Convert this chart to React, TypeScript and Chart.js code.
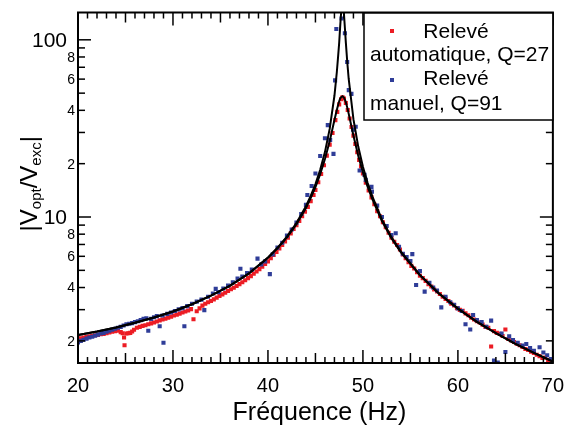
import React, { useEffect, useRef } from 'react';
import { Chart, registerables } from 'chart.js';

Chart.register(...registerables);

const FONT = '"Liberation Sans", Arial, Helvetica, sans-serif';
const RED = '#ec1c24';
const BLUE = '#2f3d98';

// Relevé automatique (red)
const autoX = [
  20.0, 20.3, 20.6, 20.9, 21.2, 21.5, 21.8, 22.1, 22.4, 22.7, 23.0, 23.3, 23.6, 23.9, 24.2, 24.5, 24.7, 24.85, 24.9, 25.1,
  25.3, 25.5, 25.7, 25.9, 26.2, 26.5, 26.8, 27.1, 27.4, 27.7, 28.0, 28.3, 28.6, 28.9, 29.2, 29.5, 29.8, 30.1, 30.4, 30.7,
  31.0, 31.3, 31.6, 31.9, 32.16, 32.5, 32.8, 33.1, 33.4, 33.7, 34.0, 34.3, 34.6, 34.9, 35.2, 35.5, 35.8, 36.1, 36.4, 36.7,
  37.0, 37.3, 37.6, 37.9, 38.2, 38.5, 38.8, 39.1, 39.4, 39.7, 40.0, 40.3, 40.6, 40.9, 41.2, 41.5, 41.8, 42.1, 42.4, 42.7,
  43.0, 43.3, 43.6, 43.9, 44.2, 44.5, 44.8, 45.0, 45.3, 45.6, 45.9, 46.2, 46.5, 46.8, 47.1, 47.3, 47.5, 47.7, 47.85, 48.0,
  48.2, 48.4, 48.6, 48.8, 49.0, 49.2, 49.4, 49.6, 49.8, 50.0, 50.3, 50.6, 50.9, 51.2, 51.5, 51.8, 52.1, 52.4, 52.7, 53.0,
  53.3, 53.6, 53.9, 54.2, 54.5, 54.8, 55.1, 55.4, 55.7, 56.0, 56.3, 56.6, 56.9, 57.2, 57.5, 57.8, 58.1, 58.4, 58.7, 59.0,
  59.3, 59.6, 59.9, 60.2, 60.5, 60.8, 61.1, 61.4, 61.7, 62.0, 62.3, 62.6, 62.9, 63.2, 63.5, 63.8, 64.1, 64.4, 64.7, 65.0,
  65.3, 65.6, 65.9, 66.2, 66.5, 66.8, 67.1, 67.4, 67.7, 68.0, 68.3, 68.6, 68.9, 69.2, 69.5, 69.8,
];
const autoY = [
  2.06, 2.07, 2.09, 2.10, 2.12, 2.13, 2.15, 2.16, 2.18, 2.19, 2.21, 2.23, 2.25, 2.27, 2.28, 2.24, 2.21, 2.09, 1.89, 2.20,
  2.21, 2.22, 2.26, 2.31, 2.37, 2.40, 2.43, 2.45, 2.48, 2.51, 2.54, 2.57, 2.61, 2.64, 2.67, 2.70, 2.74, 2.78, 2.81, 2.85,
  2.89, 2.93, 2.97, 3.02, 2.65, 2.94, 3.05, 3.16, 3.24, 3.30, 3.36, 3.43, 3.51, 3.58, 3.66, 3.74, 3.82, 3.91, 3.99, 4.08,
  4.18, 4.28, 4.40, 4.52, 4.64, 4.78, 4.93, 5.08, 5.25, 5.43, 5.62, 5.85, 6.10, 6.36, 6.64, 6.95, 7.28, 7.65, 8.08, 8.55,
  9.00, 9.50, 10.1, 10.7, 11.4, 12.3, 13.3, 14.2, 15.7, 17.5, 19.6, 22.2, 25.6, 29.8, 35.2, 39.2, 43.2, 46.2, 47.3, 46.6,
  44.0, 40.2, 36.0, 32.2, 28.8, 25.8, 23.2, 21.0, 19.3, 17.6, 15.6, 14.1, 12.9, 11.8, 10.8, 10.1, 9.35, 8.75, 8.15, 7.65,
  7.25, 6.95, 6.55, 6.15, 5.85, 5.55, 5.30, 5.12, 4.88, 4.66, 4.52, 4.36, 4.18, 4.05, 3.90, 3.80, 3.68, 3.55, 3.45, 3.36,
  3.24, 3.17, 3.06, 2.99, 2.96, 2.86, 2.79, 2.70, 2.64, 2.58, 2.54, 2.47, 2.40, 2.37, 1.86, 2.27, 2.22, 2.19, 2.13, 2.32,
  2.05, 2.01, 1.97, 1.93, 1.89, 1.85, 1.80, 1.78, 1.74, 1.71, 1.67, 1.64, 1.60, 1.61, 1.56, 1.54,
];

// Relevé manuel (blue)
const manX = [
  20.0, 20.3, 20.6, 20.9, 21.2, 21.5, 21.8, 22.1, 22.4, 22.7, 23.0, 23.3, 23.6, 23.9, 24.2, 24.5, 24.8, 25.1, 25.4, 25.7,
  26.0, 26.3, 26.6, 26.9, 27.2, 27.4, 27.7, 28.0, 28.3, 28.6, 28.9, 29.0, 29.4, 29.8, 30.2, 30.6, 31.0, 31.2, 31.5, 32.0,
  32.5, 33.0, 33.3, 33.7, 34.2, 34.5, 34.8, 35.3, 35.8, 36.3, 36.8, 37.1, 37.3, 37.8, 38.3, 38.9, 39.3, 39.7, 40.2, 40.5,
  41.0, 41.5, 42.0, 42.5, 43.0, 43.5, 44.0, 44.15, 44.6, 45.0, 45.5, 46.0, 46.3, 46.55, 46.9, 47.07, 47.2, 47.75, 48.1, 48.34,
  48.51, 48.79, 48.96, 49.24, 49.65, 50.17, 50.3, 50.9, 50.95, 51.5, 52.0, 52.5, 53.0, 53.45, 53.8, 54.2, 54.6, 55.0, 55.2, 55.6,
  56.0, 56.5, 57.0, 57.4, 57.8, 58.25, 58.7, 59.2, 59.6, 60.0, 60.4, 60.8, 61.3, 61.6, 62.0, 62.5, 63.0, 63.5, 63.8, 64.2,
  64.6, 65.0, 65.4, 65.8, 66.3, 66.8, 67.2, 67.6, 68.0, 68.6, 69.0, 69.4, 69.8,
];
const manY = [
  1.96, 2.00, 2.03, 2.06, 2.09, 2.11, 2.14, 2.17, 2.20, 2.22, 2.25, 2.28, 2.31, 2.34, 2.37, 2.40, 2.44, 2.48, 2.50, 2.52,
  2.55, 2.58, 2.62, 2.66, 2.68, 2.28, 2.66, 2.72, 2.76, 2.42, 2.78, 1.95, 2.84, 2.89, 2.95, 3.01, 3.06, 2.42, 3.14, 3.24,
  3.33, 3.42, 2.98, 3.55, 3.70, 3.93, 3.76, 3.95, 4.10, 4.28, 4.50, 5.10, 4.62, 4.82, 5.05, 5.82, 5.40, 5.62, 4.76, 6.15,
  6.72, 7.15, 7.85, 8.50, 9.30, 10.4, 11.7, 13.3, 14.97, 17.6, 22.1, 27.8, 33.0, 27.2, 22.7, 59.0, 115, 132, 109, 75.0,
  52.0, 49.5, 31.1, 32.3, 18.3, 17.3, 16.2, 14.8, 13.9, 11.6, 10.0, 8.9, 7.9, 8.09, 6.8, 6.2, 5.95, 5.65, 6.17, 4.13,
  4.95, 3.79, 4.25, 4.00, 3.85, 3.09, 3.55, 3.30, 3.20, 3.05, 2.95, 2.48, 2.32, 2.80, 2.62, 2.55, 2.40, 2.60, 1.55, 1.51,
  2.20, 1.73, 2.12, 2.02, 1.95, 1.88, 1.92, 1.82, 1.76, 1.84, 1.72, 1.66, 1.58,
];

// Fitted curves (black)
const fitX = [
  20, 22, 24, 26, 28, 30, 32, 34, 36, 38, 40, 41, 42, 43, 44, 44.5, 45, 45.5, 46, 46.5,
  47, 47.25, 47.4, 47.5, 47.6, 47.7, 47.85, 48, 48.1, 48.2, 48.35, 48.5, 49, 49.5, 50, 50.5, 51, 52, 53, 54,
  56, 58, 60, 62, 64, 66, 68, 70,
];
const fit27 = [
  2.16, 2.26, 2.38, 2.53, 2.71, 2.93, 3.22, 3.60, 4.09, 4.80, 5.88, 6.65, 7.68, 9.11, 11.25, 12.77, 14.75, 17.43, 21.25, 26.75,
  35.28, 40.2, 43.2, 45.0, 46.5, 47.5, 48.06, 47.25, 46.0, 44.5, 41.5, 38.33, 28.86, 22.27, 17.85, 14.79, 12.57, 9.50, 7.60, 6.32,
  4.69, 3.70, 3.04, 2.56, 2.21, 1.93, 1.71, 1.53,
];
const fit91 = [
  2.16, 2.26, 2.38, 2.53, 2.71, 2.93, 3.22, 3.60, 4.10, 4.81, 5.91, 6.70, 7.75, 9.24, 11.50, 13.14, 15.34, 18.47, 23.25, 31.42,
  48.33, 65.6, 82.2, 96.3, 117.9, 141.7, 162, 140.4, 116.9, 96.8, 74.9, 60.3, 35.65, 25.05, 19.22, 15.56, 13.04, 9.70, 7.70, 6.38,
  4.71, 3.70, 3.04, 2.56, 2.21, 1.93, 1.71, 1.53,
];

const X_MIN = 20;
const X_MAX = 70;
const Y_MIN = 1.5;
const Y_MAX = 142.6;
const xTickLabels = ['20', '30', '40', '50', '60', '70'];
const yLabelValues = [2, 4, 6, 8, 10, 20, 40, 60, 80, 100];
const yLabelTexts = ['2', '4', '6', '8', '10', '2', '4', '6', '8', '100'];
const yMinorTicks = [2, 3, 4, 5, 6, 7, 8, 9, 20, 30, 40, 50, 60, 70, 80, 90];
const yMajorTicks = [10, 100];
const legendTexts = ['Relevé', 'automatique, Q=27', 'Relevé', 'manuel, Q=91'];
const xTitle = 'Fréquence (Hz)';

const toXY = (xs: number[], ys: number[]) => xs.map((x, i) => ({ x, y: ys[i] }));

const decorPlugin = {
  id: 'decor',
  afterDraw(chart: any) {
    const { ctx, chartArea: a, scales } = chart;
    const xs = scales.x;
    const ys = scales.y;
    ctx.save();
    ctx.strokeStyle = '#000';
    ctx.fillStyle = '#000';
    ctx.lineWidth = 1.5;
    const seg = (x1: number, y1: number, x2: number, y2: number) => {
      ctx.beginPath();
      ctx.moveTo(x1, y1);
      ctx.lineTo(x2, y2);
      ctx.stroke();
    };
    // x tick marks (inward, bottom and top)
    for (let v = X_MIN; v <= X_MAX; v++) {
      const px = xs.getPixelForValue(v);
      const len = v % 10 === 0 ? 13 : v % 5 === 0 ? 10 : 6;
      seg(px, a.bottom, px, a.bottom - len);
      seg(px, a.top, px, a.top + len);
    }
    // y tick marks (inward, left and right)
    const yt = [...yMinorTicks.map((v) => [v, 7]), ...yMajorTicks.map((v) => [v, 13])];
    for (const [v, len] of yt) {
      if (v < Y_MIN || v > Y_MAX) continue;
      const py = ys.getPixelForValue(v);
      seg(a.left, py, a.left + len, py);
      seg(a.right, py, a.right - len, py);
    }
    // frame
    ctx.lineWidth = 2;
    ctx.strokeRect(a.left, a.top, a.right - a.left, a.bottom - a.top);

    // y labels
    ctx.textBaseline = 'middle';
    ctx.textAlign = 'right';
    yLabelValues.forEach((v, i) => {
      const major = v === 10 || v === 100;
      ctx.font = `${major ? 21 : 14}px ${FONT}`;
      ctx.fillText(yLabelTexts[i], major ? a.left - 11 : a.left - 3, ys.getPixelForValue(v) + 1);
    });

    // x title
    ctx.textBaseline = 'alphabetic';
    ctx.textAlign = 'center';
    ctx.font = `25px ${FONT}`;
    ctx.fillText(xTitle, (a.left + a.right) / 2 + 4, 420);

    // y title with subscripts
    const parts: [string, boolean][] = [['|V', false], ['opt', true], ['/V', false], ['exc', true], ['|', false]];
    const mainF = `24px ${FONT}`;
    const subF = `15px ${FONT}`;
    let total = 0;
    for (const [t, sub] of parts) {
      ctx.font = sub ? subF : mainF;
      total += ctx.measureText(t).width;
    }
    ctx.save();
    ctx.translate(37, (a.top + a.bottom) / 2 - 4);
    ctx.rotate(-Math.PI / 2);
    ctx.textAlign = 'left';
    let cx = -total / 2;
    for (const [t, sub] of parts) {
      ctx.font = sub ? subF : mainF;
      ctx.fillText(t, cx, sub ? 4 : 0);
      cx += ctx.measureText(t).width;
    }
    ctx.restore();

    // legend
    const lx = 364;
    const ly = 13;
    const lw = a.right - lx;
    const lh = 107;
    ctx.fillStyle = '#fff';
    ctx.fillRect(lx, ly, lw, lh);
    ctx.lineWidth = 1.5;
    ctx.strokeStyle = '#000';
    ctx.strokeRect(lx, ly, lw, lh);
    ctx.fillStyle = RED;
    ctx.fillRect(lx + 26, ly + 16, 4, 4);
    ctx.fillStyle = BLUE;
    ctx.fillRect(lx + 26, ly + 65, 4, 4);
    ctx.fillStyle = '#000';
    ctx.font = `21px ${FONT}`;
    ctx.textAlign = 'center';
    ctx.fillText(legendTexts[0], lx + 92, ly + 25);
    ctx.fillText(legendTexts[2], lx + 92, ly + 72);
    ctx.textAlign = 'left';
    ctx.fillText(legendTexts[1], lx + 6, ly + 48);
    ctx.fillText(legendTexts[3], lx + 6, ly + 97);
    ctx.restore();
  },
};

export default function App() {
  const canvasRef = useRef<HTMLCanvasElement | null>(null);
  useEffect(() => {
    document.body.style.margin = '0';
    const canvas = canvasRef.current;
    if (!canvas) return;
    const chart = new Chart(canvas, {
      type: 'scatter',
      data: {
        datasets: [
          {
            label: 'Ajustement Q=91',
            data: toXY(fitX, fit91),
            showLine: true,
            borderColor: '#000',
            borderWidth: 2,
            pointRadius: 0,
            order: 0,
          },
          {
            label: 'Ajustement Q=27',
            data: toXY(fitX, fit27),
            showLine: true,
            borderColor: '#000',
            borderWidth: 2,
            pointRadius: 0,
            order: 0,
          },
          {
            label: 'Relevé manuel, Q=91',
            data: toXY(manX, manY),
            showLine: false,
            pointStyle: 'rect',
            pointRadius: 2.9,
            borderWidth: 0,
            backgroundColor: BLUE,
            order: 1,
          },
          {
            label: 'Relevé automatique, Q=27',
            data: toXY(autoX, autoY),
            showLine: false,
            pointStyle: 'rect',
            pointRadius: 2.9,
            borderWidth: 0,
            backgroundColor: RED,
            order: 2,
          },
        ],
      },
      options: {
        animation: false,
        responsive: false,
        devicePixelRatio: 1,
        layout: { padding: { top: 12.5, right: 13, left: 0, bottom: 0 } },
        plugins: { legend: { display: false }, tooltip: { enabled: false } },
        scales: {
          x: {
            type: 'linear',
            min: X_MIN,
            max: X_MAX,
            grid: { display: false, drawTicks: false },
            border: { display: false },
            ticks: {
              stepSize: 10,
              color: '#000',
              padding: 11,
              maxRotation: 0,
              font: { family: FONT, size: 20 },
              callback: (v: any) => xTickLabels[Math.round((Number(v) - X_MIN) / 10)] ?? '',
            },
            afterFit: (s: any) => {
              s.height = 64;
            },
          },
          y: {
            type: 'logarithmic',
            min: Y_MIN,
            max: Y_MAX,
            grid: { display: false, drawTicks: false },
            border: { display: false },
            ticks: { display: false },
            afterFit: (s: any) => {
              s.width = 78;
            },
          },
        },
      },
      plugins: [decorPlugin],
    });
    return () => chart.destroy();
  }, []);
  return <canvas ref={canvasRef} width={575} height={427} style={{ display: 'block' }} />;
}
